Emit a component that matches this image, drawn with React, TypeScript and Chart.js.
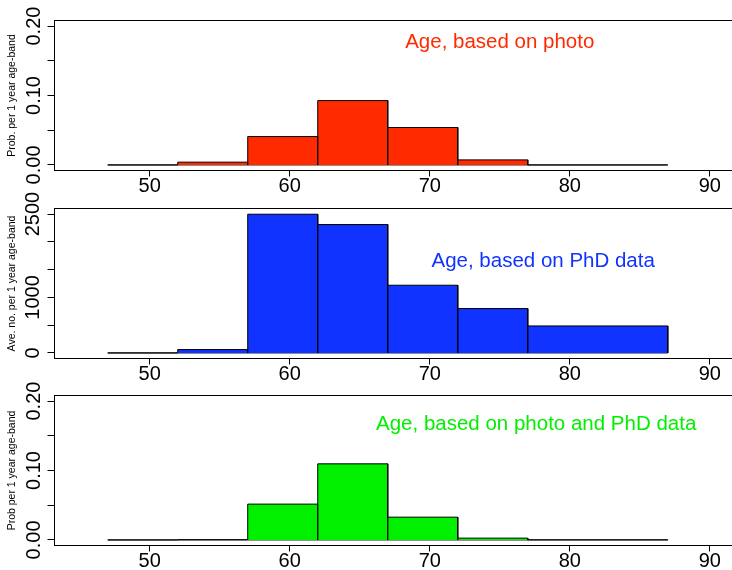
import React, { useEffect, useRef } from "react";
import { Chart, registerables } from "chart.js";

Chart.register(...registerables);

// ---- data ----
const binEdges = [47, 52, 57, 62, 67, 72, 77, 87];
const photoProb = [0, 0.004, 0.0409, 0.0927, 0.0539, 0.0073, 0];
const phdCount = [0, 61, 2497, 2311, 1219, 799, 486];
const combinedProb = [0, 0.0004, 0.0516, 0.1096, 0.0328, 0.0026, 0.0002];

const xTicks = [50, 60, 70, 80, 90];
const probTicks = [0, 0.05, 0.1, 0.15, 0.2];
const probTickLabels = ["0.00", "", "0.10", "", "0.20"];
const countTicks = [0, 500, 1000, 1500, 2000, 2500];
const countTickLabels = ["0", "", "1000", "", "", "2500"];

const panelTitles = [
  "Age, based on photo",
  "Age, based on PhD data",
  "Age, based on photo and PhD data",
];
const yAxisTitles = [
  "Prob. per 1 year age-band",
  "Ave. no. per 1 year age-band",
  "Prob per 1 year age-band",
];

const FONT = "'Liberation Sans', Arial, Helvetica, sans-serif";

type Panel = {
  values: number[];
  ticks: number[];
  labels: string[];
  yMin: number;
  yMax: number;
  color: string;
  title: string;
  yTitle: string;
  annX: number;
  annY: number;
  top: number;
  padTop: number;
  tickPad: number;
};

const panels: Panel[] = [
  {
    values: photoProb, ticks: probTicks, labels: probTickLabels,
    yMin: -0.008, yMax: 0.208, color: "#FF2A00",
    title: panelTitles[0], yTitle: yAxisTitles[0], annX: 75, annY: 0.177,
    top: 0, padTop: 20.5, tickPad: -6,
  },
  {
    values: phdCount, ticks: countTicks, labels: countTickLabels,
    yMin: -100, yMax: 2600, color: "#1033FF",
    title: panelTitles[1], yTitle: yAxisTitles[1], annX: 78.1, annY: 1640,
    top: 188, padTop: 20.5, tickPad: -8.7,
  },
  {
    values: combinedProb, ticks: probTicks, labels: probTickLabels,
    yMin: -0.008, yMax: 0.208, color: "#00F000",
    title: panelTitles[2], yTitle: yAxisTitles[2], annX: 77.6, annY: 0.166,
    top: 375, padTop: 20.5, tickPad: -6,
  },
];

const CANVAS_W = 740;
const CANVAS_H = 200;
const PLOT_H = 150;
const Y_AXIS_W = 54.5;

function histPoints(edges: number[], vals: number[]) {
  const pts: { x: number; y: number }[] = [];
  vals.forEach((v, i) => {
    pts.push({ x: edges[i], y: 0 }, { x: edges[i], y: v }, { x: edges[i + 1], y: v }, { x: edges[i + 1], y: 0 });
  });
  return pts;
}

const framePlugin = {
  id: "frame",
  afterDraw(chart: any) {
    const { ctx, chartArea: a } = chart;
    ctx.save();
    ctx.strokeStyle = "#000";
    ctx.lineWidth = 1;
    ctx.strokeRect(a.left, a.top, a.right - a.left, a.bottom - a.top);
    ctx.restore();
  },
};

const annotPlugin = {
  id: "annot",
  afterDraw(chart: any, _args: any, opts: any) {
    if (!opts || !opts.text) return;
    const { ctx } = chart;
    const xs = chart.scales.x;
    const ys = chart.scales.y;
    ctx.save();
    ctx.fillStyle = opts.color;
    ctx.font = `20.5px ${FONT}`;
    ctx.textAlign = "center";
    ctx.textBaseline = "middle";
    ctx.fillText(opts.text, xs.getPixelForValue(opts.x), ys.getPixelForValue(opts.y));
    ctx.restore();
  },
};

function PanelChart({ p }: { p: Panel }) {
  const ref = useRef<HTMLCanvasElement>(null);
  useEffect(() => {
    if (!ref.current) return;
    const chart = new Chart(ref.current, {
      type: "line",
      data: {
        datasets: [
          {
            data: histPoints(binEdges, p.values),
            backgroundColor: p.color,
            borderColor: "#000",
            borderWidth: 1,
            fill: "origin",
            pointRadius: 0,
            tension: 0,
          },
          {
            data: [
              { x: binEdges[0], y: 0 },
              { x: binEdges[binEdges.length - 1], y: 0 },
            ],
            borderColor: "#000",
            borderWidth: 1,
            fill: false,
            pointRadius: 0,
          },
        ],
      },
      options: {
        responsive: false,
        animation: false,
        events: [],
        layout: { padding: { top: p.padTop, left: 0, right: CANVAS_W - 735, bottom: 0 } },
        plugins: {
          legend: { display: false },
          tooltip: { enabled: false },
          annot: { text: p.title, x: p.annX, y: p.annY, color: p.color },
        } as any,
        scales: {
          x: {
            type: "linear",
            min: 43.2,
            max: 91.8,
            afterBuildTicks: (s: any) => {
              s.ticks = xTicks.map((v) => ({ value: v }));
            },
            afterFit: (s: any) => {
              s.height = CANVAS_H - p.padTop - PLOT_H;
            },
            grid: { drawOnChartArea: false, drawTicks: true, tickLength: 6, color: "#000", lineWidth: 1 },
            border: { display: false },
            ticks: {
              color: "#000",
              font: { family: FONT, size: 20, lineHeight: 1 },
              padding: 0,
              autoSkip: false,
              maxRotation: 0,
              minRotation: 0,
              callback: (v: any) => String(v),
            },
          },
          y: {
            type: "linear",
            min: p.yMin,
            max: p.yMax,
            afterBuildTicks: (s: any) => {
              s.ticks = p.ticks.map((v) => ({ value: v }));
            },
            afterFit: (s: any) => {
              s.width = Y_AXIS_W;
            },
            grid: { drawOnChartArea: false, drawTicks: true, tickLength: 7, color: "#000", lineWidth: 1 },
            border: { display: false },
            title: {
              display: true,
              text: p.yTitle,
              color: "#000",
              font: { family: FONT, size: 10.5, lineHeight: 1.2 },
              padding: { top: 5.4, bottom: 0 },
            },
            ticks: {
              color: "#000",
              font: { family: FONT, size: 20, lineHeight: 1 },
              padding: p.tickPad,
              autoSkip: false,
              minRotation: 90,
              maxRotation: 90,
              crossAlign: "center",
              callback: (_v: any, i: number) => p.labels[i],
            },
          },
        },
      } as any,
      plugins: [framePlugin, annotPlugin],
    });
    return () => chart.destroy();
  }, [p]);
  return (
    <canvas
      ref={ref}
      width={CANVAS_W}
      height={CANVAS_H}
      style={{ position: "absolute", left: 0, top: p.top, width: CANVAS_W, height: CANVAS_H, display: "block" }}
    />
  );
}

export default function App() {
  return (
    <div
      style={{
        position: "absolute",
        left: 0,
        top: 0,
        width: 732,
        height: 570,
        overflow: "hidden",
        background: "#fff",
      }}
    >
      {panels.map((p, i) => (
        <PanelChart key={i} p={p} />
      ))}
    </div>
  );
}
